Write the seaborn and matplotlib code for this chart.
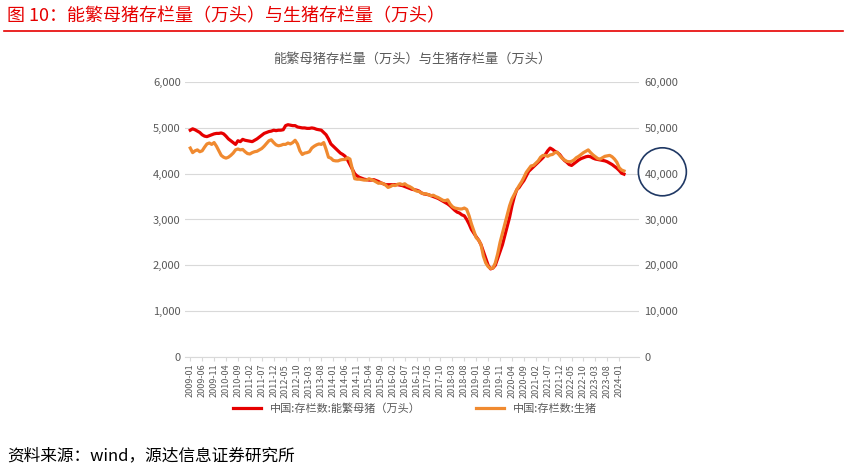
import pandas as pd
import numpy as np
import matplotlib.pyplot as plt
import seaborn as sns
from matplotlib.patches import Ellipse

plt.rcParams["font.family"] = "Noto Sans CJK SC"

# 能繁母猪存栏 (万头), monthly 2009-01 .. 2024-03
sow = [4950, 4980, 4960, 4930, 4900, 4850, 4820, 4810, 4830, 4850, 4870, 4880,
       4880, 4890, 4870, 4820, 4760, 4720, 4680, 4640, 4720, 4700, 4750, 4730,
       4720, 4710, 4700, 4730, 4760, 4800, 4840, 4880, 4900, 4920, 4930, 4950,
       4940, 4950, 4950, 4960, 5050, 5070, 5060, 5050, 5050, 5020, 5010, 5000,
       5000, 4990, 4990, 5000, 4990, 4970, 4960, 4950, 4900, 4850, 4760, 4650,
       4600, 4550, 4500, 4450, 4420, 4380, 4300, 4200, 4100, 4000, 3950, 3920,
       3900, 3880, 3870, 3860, 3860, 3870, 3850, 3830, 3800, 3780, 3760, 3760,
       3760, 3760, 3760, 3760, 3750, 3740, 3720, 3700, 3680, 3660, 3650, 3640,
       3620, 3580, 3560, 3550, 3540, 3520, 3500, 3480, 3460, 3430, 3400, 3370,
       3340, 3300, 3250, 3200, 3160, 3140, 3100, 3080, 3000, 2900, 2780, 2700,
       2620, 2550, 2450, 2300, 2150, 2000, 1920, 1940, 2000, 2150, 2300, 2450,
       2650, 2850, 3050, 3300, 3500, 3650, 3700, 3780, 3850, 3950, 4050, 4100,
       4150, 4200, 4250, 4300, 4350, 4420, 4500, 4560, 4530, 4490, 4460, 4420,
       4350, 4290, 4250, 4200, 4180, 4220, 4260, 4300, 4330, 4350, 4370, 4380,
       4370, 4340, 4320, 4310, 4300, 4290, 4280, 4260, 4230, 4200, 4160, 4120,
       4070, 4010, 3990]

# 生猪存栏 (万头)
hog = [45600, 44600, 45000, 45200, 44800, 45000, 45800, 46500, 46700, 46400, 46800, 46000,
       45000, 44000, 43600, 43400, 43600, 44000, 44500, 45200, 45400, 45200, 45300, 44800,
       44400, 44300, 44600, 44800, 44900, 45200, 45500, 46000, 46600, 47200, 47400, 46800,
       46300, 46100, 46200, 46400, 46400, 46700, 46500, 46800, 47300, 46500, 45000, 44200,
       44500, 44600, 44800, 45600, 46000, 46300, 46500, 46400, 46800, 45300, 43600, 43400,
       42900, 42800, 42800, 43000, 43100, 43100, 43500, 43200, 41000, 38900, 38800, 38800,
       38700, 38600, 38600, 38900, 38700, 38500, 38200, 37900, 38000, 37800, 37500, 37000,
       37200, 37500, 37400, 37700, 37800, 37600, 37800, 37400, 37200, 36900, 36500, 36200,
       36100, 35800, 35600, 35600, 35400, 35200, 35300, 35000, 34800, 34500, 34200, 34100,
       34300, 33400, 32800, 32500, 32400, 32300, 32300, 32500, 32200, 30800, 29000, 27500,
       26000, 25500, 24500, 22000, 20500, 19700, 19300, 19400, 20500, 22500, 25000, 27000,
       29000, 31000, 33000, 34500, 35500, 36500, 37400, 38200, 39200, 40300, 41000, 41700,
       41800, 42300, 42800, 43600, 44000, 44000, 43800, 44100, 44200, 44600, 44700, 44000,
       43400, 43000, 42700, 42600, 42700, 43000, 43500, 43800, 44200, 44600, 44900, 45200,
       44600, 44100, 43700, 43300, 43200, 43500, 43800, 43900, 44000, 43700, 43200, 42500,
       41300, 40800, 40600]

months = pd.date_range("2009-01", periods=len(sow), freq="MS").strftime("%Y-%m").tolist()
df = pd.DataFrame({"idx": np.arange(len(sow)), "sow": sow, "hog": hog})

fig = plt.figure(figsize=(8.47, 4.72), dpi=100)
fig.text(0.008, 0.965, "图 10：能繁母猪存栏量（万头）与生猪存栏量（万头）", color="#e60000",
         fontsize=13, va="center", ha="left")
fig.add_artist(plt.Line2D([0.005, 0.995], [0.935, 0.935], color="#e60000", lw=1.2))
fig.text(0.008, 0.035, "资料来源：wind，源达信息证券研究所", fontsize=12, va="center", ha="left")

ax = fig.add_axes([0.219, 0.244, 0.536, 0.582])
ax2 = ax.twinx()
sns.lineplot(data=df, x="idx", y="sow", ax=ax, color="#e60000", lw=2.3,
             label="中国:存栏数:能繁母猪（万头）", legend=False)
sns.lineplot(data=df, x="idx", y="hog", ax=ax2, color="#f08a30", lw=2.3,
             label="中国:存栏数:生猪", legend=False)

ax.set_ylim(0, 6000)
ax2.set_ylim(0, 60000)
ax.set_yticks(range(0, 6001, 1000))
ax2.set_yticks(range(0, 60001, 10000))
ax.set_yticklabels([f"{v:,}" for v in range(0, 6001, 1000)])
ax2.set_yticklabels([f"{v:,}" for v in range(0, 60001, 10000)])
ax.set_xlim(-2, 188.5)
ticks = list(range(0, len(sow), 5))
ax.set_xticks(ticks)
ax.set_xticklabels([months[i] for i in ticks], rotation=90, fontsize=6.5, color="#595959")
ax.grid(axis="y", color="#d9d9d9", lw=0.8)
ax.set_axisbelow(True)
for a in (ax, ax2):
    a.set_xlabel("")
    a.set_ylabel("")
    a.tick_params(axis="y", labelsize=8, labelcolor="#595959", length=0)
    for s in a.spines.values():
        s.set_visible(False)
ax.spines["bottom"].set_visible(True)
ax.spines["bottom"].set_color("#d9d9d9")
ax.tick_params(axis="x", length=3, color="#d9d9d9", pad=2)
ax.set_title("能繁母猪存栏量（万头）与生猪存栏量（万头）", fontsize=9.5, color="#595959", pad=14)

# highlight circle near the end
circ = Ellipse((0.782, 0.636), 48 / 847, 48 / 472, transform=fig.transFigure, fill=False,
               color="#1f3864", lw=1.2)
fig.add_artist(circ)

h1, l1 = ax.get_legend_handles_labels()
h2, l2 = ax2.get_legend_handles_labels()
fig.legend(h1 + h2, l1 + l2, loc="center", bbox_to_anchor=(0.49, 0.135), ncol=2,
           frameon=False, fontsize=8, handlelength=2.5, columnspacing=5,
           labelcolor="#595959")

fig.savefig("out.png", dpi=100)
